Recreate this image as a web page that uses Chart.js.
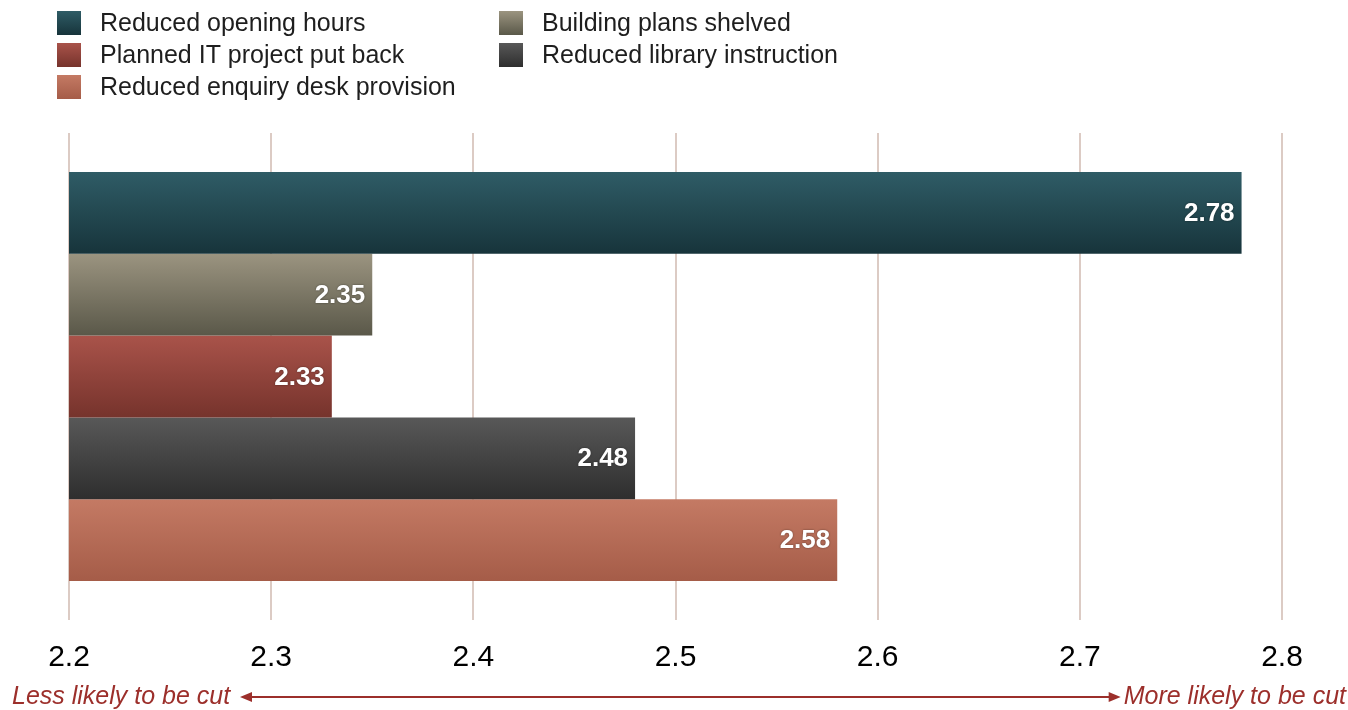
<!DOCTYPE html>
<html>
<head>
<meta charset="utf-8">
<script src="https://cdn.jsdelivr.net/npm/chart.js@4"></script>
<style>
  html, body { margin: 0; padding: 0; background: #fff; }
  #wrap { width: 1348px; height: 710px; }
</style>
</head>
<body>
<div id="wrap"><canvas id="myChart" width="1348" height="710"></canvas></div>
<script>
// data
const seriesLabels = [
  'Reduced opening hours',
  'Building plans shelved',
  'Planned IT project put back',
  'Reduced library instruction',
  'Reduced enquiry desk provision'
];
const seriesValues = [2.78, 2.35, 2.33, 2.48, 2.58];
const xTicks = [2.2, 2.3, 2.4, 2.5, 2.6, 2.7, 2.8];
const leftNote = 'Less likely to be cut';
const rightNote = 'More likely to be cut';

// top / bottom colour of each bar gradient
const gradTop = ['#2f5c66', '#9b9480', '#a9534a', '#585858', '#c47a64'];
const gradBottom = ['#17343b', '#5a5849', '#76332c', '#2e2e2e', '#a55c48'];

const FONT = '"Liberation Sans", Arial, Helvetica, sans-serif';
const CAT_PCT = 0.84;

const barGradient = (ctx) => {
  const chart = ctx.chart;
  const i = ctx.datasetIndex;
  const area = chart.chartArea;
  if (!area) return gradTop[i];
  const h = area.bottom - area.top;
  const barH = h * CAT_PCT / seriesValues.length;
  const top = area.top + h * (1 - CAT_PCT) / 2 + i * barH;
  const g = chart.ctx.createLinearGradient(0, top, 0, top + barH);
  g.addColorStop(0, gradTop[i]);
  g.addColorStop(1, gradBottom[i]);
  return g;
};

const datasets = seriesLabels.map((label, i) => ({
  label,
  data: [seriesValues[i]],
  backgroundColor: barGradient,
  borderWidth: 0
}));

// two column legend drawn at the top
const legendPlugin = {
  id: 'gridLegend',
  afterDraw(chart) {
    const {ctx} = chart;
    ctx.save();
    ctx.font = `25px ${FONT}`;
    ctx.textBaseline = 'middle';
    chart.data.datasets.forEach((ds, i) => {
      const col = i % 2;
      const row = Math.floor(i / 2);
      const x = col === 0 ? 57 : 499;
      const y = 23 + row * 32;
      const g = ctx.createLinearGradient(0, y - 12, 0, y + 12);
      g.addColorStop(0, gradTop[i]);
      g.addColorStop(1, gradBottom[i]);
      ctx.fillStyle = g;
      ctx.fillRect(x, y - 12, 24, 24);
      ctx.fillStyle = '#1e1e1e';
      ctx.fillText(ds.label, x + 43, y + 1);
    });
    ctx.restore();
  }
};

// value labels inside the bar ends
const valuePlugin = {
  id: 'valueLabels',
  afterDatasetsDraw(chart) {
    const {ctx} = chart;
    ctx.save();
    ctx.font = `bold 26px ${FONT}`;
    ctx.textAlign = 'right';
    ctx.textBaseline = 'middle';
    ctx.fillStyle = '#fff';
    ctx.shadowColor = 'rgba(0,0,0,0.5)';
    ctx.shadowBlur = 2;
    chart.data.datasets.forEach((ds, i) => {
      const el = chart.getDatasetMeta(i).data[0];
      ctx.fillText(ds.data[0].toFixed(2), el.x - 7, el.y + 1);
    });
    ctx.restore();
  }
};

// arrow with notes below the axis
const arrowPlugin = {
  id: 'arrowNote',
  afterDraw(chart) {
    const {ctx} = chart;
    const y = 697;
    const color = '#9c2f2b';
    ctx.save();
    ctx.font = `italic 25px ${FONT}`;
    ctx.textBaseline = 'middle';
    ctx.fillStyle = color;
    ctx.fillText(leftNote, 12, y);
    const rw = ctx.measureText(rightNote).width;
    const rx = 1346 - rw;
    ctx.fillText(rightNote, rx, y);
    const x1 = 240, x2 = rx - 3;
    ctx.strokeStyle = color;
    ctx.lineWidth = 2;
    ctx.beginPath();
    ctx.moveTo(x1 + 8, y);
    ctx.lineTo(x2 - 8, y);
    ctx.stroke();
    ctx.beginPath();
    ctx.moveTo(x1, y);
    ctx.lineTo(x1 + 12, y - 5);
    ctx.lineTo(x1 + 12, y + 5);
    ctx.closePath();
    ctx.moveTo(x2, y);
    ctx.lineTo(x2 - 12, y - 5);
    ctx.lineTo(x2 - 12, y + 5);
    ctx.closePath();
    ctx.fill();
    ctx.restore();
  }
};

new Chart(document.getElementById('myChart').getContext('2d'), {
  type: 'bar',
  data: {
    labels: [''],
    datasets
  },
  plugins: [legendPlugin, valuePlugin, arrowPlugin],
  options: {
    indexAxis: 'y',
    responsive: false,
    animation: false,
    layout: {
      padding: {left: 69, right: 66, top: 133, bottom: 14}
    },
    datasets: {
      bar: {categoryPercentage: CAT_PCT, barPercentage: 1}
    },
    plugins: {
      legend: {display: false},
      tooltip: {enabled: false}
    },
    scales: {
      y: {display: false},
      x: {
        min: 2.2,
        max: 2.8,
        afterBuildTicks: (axis) => {
          axis.ticks = xTicks.map(v => ({value: v}));
        },
        grid: {color: '#dccbc4', lineWidth: 2, drawTicks: false},
        border: {display: false},
        ticks: {
          color: '#000',
          padding: 20,
          font: {family: FONT, size: 30},
          callback: (v) => v.toFixed(1)
        }
      }
    }
  }
});
</script>
</body>
</html>
